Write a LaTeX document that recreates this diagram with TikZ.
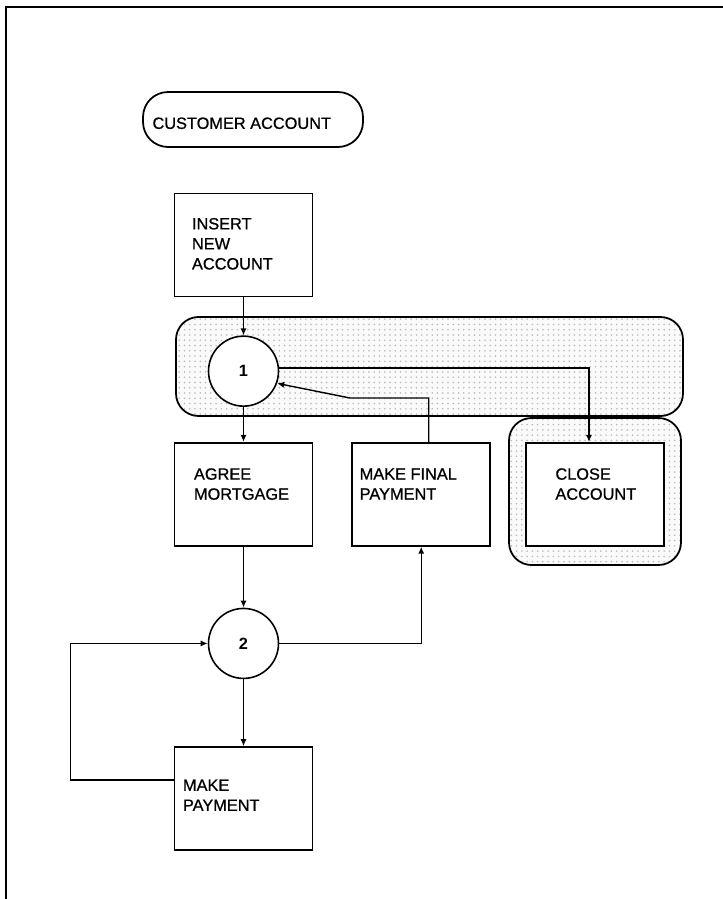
\documentclass[tikz,border=0pt]{standalone}
\usepackage{fontspec}
\setmainfont{Liberation Sans}
\newfontface\scanfont{Liberation Sans}[RawFeature={embolden=0.8}]
\usetikzlibrary{arrows.meta, positioning, patterns}

\begin{document}
\begin{tikzpicture}[x=0.02cm, y=-0.02cm,
      box/.style={draw, line width=1pt, fill=white, minimum width=2.76cm,
                  minimum height=2.06cm, inner sep=0pt},
      state/.style={draw, circle, line width=0.9pt, fill=white,
                    minimum size=1.4cm, inner sep=0pt,
                    font=\fontsize{9.3pt}{11pt}\selectfont\bfseries},
      lbl/.style={inner sep=0pt, align=left,
                  font=\fontsize{9.3pt}{11.4pt}\scanfont},
      flow/.style={line width=0.8pt, -{Latex[length=4pt,width=3.5pt]}},
      stipple/.style={line width=1pt, rounded corners=0.45cm,
                      preaction={fill=gray!4}, pattern=dots,
                      pattern color=gray!55}
    ]
    \useasboundingbox (0,0) rectangle (723,899);
    % page frame
    \draw[line width=1.2pt] (723,7) -- (6,7) -- (6,899);
    % shaded groups
    \draw[stipple] (176,317) rectangle (683,416);
    \draw[stipple] (509,418) rectangle (681,565);
    % entity name
    \node[draw, line width=1pt, rounded corners=0.5cm, minimum width=4.4cm,
          minimum height=1.1cm] (cust) at (253,119.5) {};
    \node[lbl, below right=0.52cm and 0.2cm of cust.north west] (custtxt)
      {CUSTOMER ACCOUNT};
    % boxes and states
    \node[box] (ins) at (243.5,245) {};
    \node[state, below=0.76cm of ins] (s1) {1};
    \node[box, below=0.7cm of s1] (agree) {};
    \node[box, right=0.76cm of agree] (final) {};
    \node[box, right=0.68cm of final] (close) {};
    \node[state, below=1.22cm of agree] (s2) {2};
    \node[box, below=1.34cm of s2] (pay) {};
    \node[lbl, below right=0.5cm and 0.36cm of ins.north west] (instxt)
      {INSERT\\NEW\\ACCOUNT};
    \node[lbl, below right=0.52cm and 0.4cm of agree.north west] (agreetxt)
      {AGREE\\MORTGAGE};
    \node[lbl, below right=0.52cm and 0.16cm of final.north west] (finaltxt)
      {MAKE FINAL\\PAYMENT};
    \node[lbl, below right=0.52cm and 0.6cm of close.north west] (closetxt)
      {CLOSE\\ACCOUNT};
    \node[lbl, below right=0.66cm and 0.18cm of pay.north west] (paytxt)
      {MAKE\\PAYMENT};
    % connectors
    \coordinate (bend) at (350,398);
    \draw[flow] (ins.south) -- (s1.north);
    \draw[flow] (s1.south) -- (s1.south |- agree.north);
    \draw[flow] (s1.5) -| ([xshift=-0.12cm]close.north);
    \draw[flow] ([xshift=0.15cm]final.north) |- (bend) -- (s1.-20);
    \draw[flow] (agree.south -| s2.north) -- (s2.north);
    \draw[flow] (s2.east) -| (final.south);
    \draw[flow] (s2.south) -- (pay.north);
    \draw[flow] ([yshift=0.37cm]pay.west) -- ++(-103,0) |- (s2.west);
  \end{tikzpicture}
\end{document}
